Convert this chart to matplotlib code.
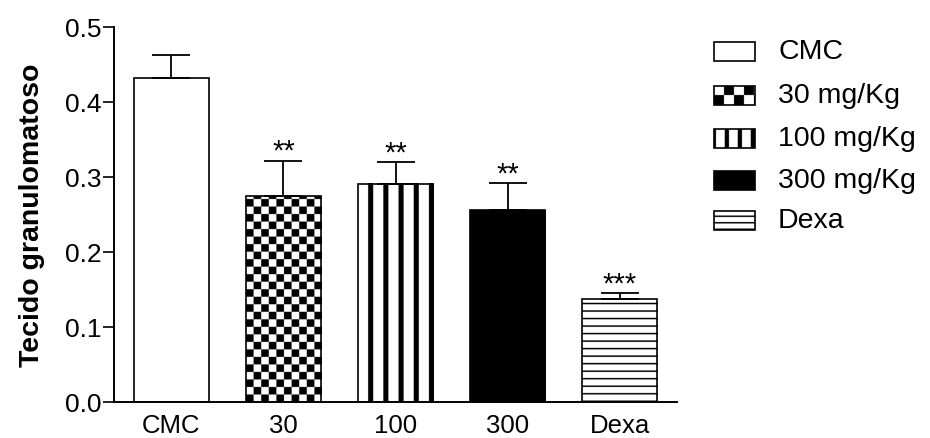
import numpy as np
import matplotlib
matplotlib.use("Agg")
import matplotlib.pyplot as plt
from matplotlib.patches import Rectangle

plt.rcParams['font.family'] = ['Liberation Sans', 'DejaVu Sans']

groups = ["CMC", "30", "100", "300", "Dexa"]
legend_labels = ["CMC", "30 mg/Kg", "100 mg/Kg", "300 mg/Kg", "Dexa"]
means = [0.432, 0.274, 0.291, 0.256, 0.137]
sem = [0.031, 0.048, 0.029, 0.036, 0.008]
stars = ["", "**", "**", "**", "***"]
fills = ["white", "checker", "vstripe", "black", "hstripe"]

W, H, DPI = 930, 439, 100
fig = plt.figure(figsize=(W / DPI, H / DPI), dpi=DPI)


def pattern(kind, w, h, cell):
    # build a black/white bitmap (row 0 = bottom) oversampled 4x
    s = 4
    xs = (np.arange(int(round(w * s))) + 0.5) / s
    ys = (np.arange(int(round(h * s))) + 0.5) / s
    X, Y = np.meshgrid(xs, ys)
    if kind == "checker":
        img = ((np.floor(X / cell) + np.floor(Y / cell)) % 2).astype(float)
    elif kind == "vstripe":
        img = (((w - X) % (cell * 2)) >= cell * 2 / 3).astype(float)
    elif kind == "hstripe":
        img = ((Y % cell) >= 1.6).astype(float)
    elif kind == "black":
        img = np.zeros_like(X)
    else:
        img = np.ones_like(X)
    return img


def fill_box(ax, x0, y0, w, h, kind, wpx, hpx, cell, lw):
    img = pattern(kind, wpx, hpx, cell)
    y_lo, y_hi = sorted([y0, y0 + h])
    ax.imshow(img, cmap="gray", vmin=0, vmax=1, origin="lower" if h > 0 else "upper",
              extent=(x0, x0 + w, y_lo, y_hi), aspect="auto",
              interpolation="antialiased", zorder=2)
    ax.add_patch(Rectangle((x0, y0), w, h, facecolor="none", edgecolor="black",
                           linewidth=lw, zorder=3))


# main panel
left, right, bottom, top = 114, 677, 403, 28
ax = fig.add_axes([left / W, (H - bottom) / H, (right - left) / W, (bottom - top) / H])
xlo, xhi = -0.513, 4.513
ax.set_xlim(xlo, xhi)
ax.set_ylim(0, 0.5)
px_x = (right - left) / (xhi - xlo)
px_y = (bottom - top) / 0.5

x = np.arange(len(groups))
bw = 0.67
for xi, m, kind in zip(x, means, fills):
    fill_box(ax, xi - bw / 2, 0, bw, m, kind, bw * px_x, m * px_y, 7.5, 1.2)

ax.errorbar(x, means, yerr=[np.zeros(len(sem)), sem], fmt="none", ecolor="black",
            elinewidth=1.3, capsize=13.5, capthick=1.3, zorder=4)
for xi, m, e, s in zip(x, means, sem, stars):
    if s:
        ax.annotate(s, (xi, m + e), xytext=(0, -3), textcoords="offset points",
                    ha="center", va="bottom", fontsize=21)

ax.set_xlim(xlo, xhi)
ax.set_ylim(0, 0.5)
ax.set_xticks(x)
ax.set_xticklabels(groups)
ax.set_yticks([0.0, 0.1, 0.2, 0.3, 0.4, 0.5])
ax.set_yticklabels(["0.0", "0.1", "0.2", "0.3", "0.4", "0.5"])
ax.tick_params(axis="x", length=0, pad=8, labelsize=18.5)
ax.tick_params(axis="y", length=8, width=1.2, pad=1, labelsize=19)
for side in ("top", "right"):
    ax.spines[side].set_visible(False)
for side in ("left", "bottom"):
    ax.spines[side].set_linewidth(1.4)
ax.set_ylabel("Tecido granulomatoso", fontsize=20.5, fontweight="bold", labelpad=14)

# legend drawn in pixel units
lx0, lx1, ly0, ly1 = 700, 930, 20, 245
lax = fig.add_axes([lx0 / W, (H - ly1) / H, (lx1 - lx0) / W, (ly1 - ly0) / H])
lax.set_xlim(lx0, lx1)
lax.set_ylim(ly1, ly0)
lax.axis("off")
rows = [52, 96, 139, 181, 221]
cells = {"checker": 10, "vstripe": 6.5, "hstripe": 6.5, "black": 1, "white": 1}
for yc, kind, lab in zip(rows, fills, legend_labels):
    bx, bwid, bh = 714, 41, 19
    fill_box(lax, bx, yc + bh / 2, bwid, -bh, kind, bwid, bh, cells[kind], 1.2)
    lax.text(778, yc, lab, ha="left", va="center", fontsize=20.5)
lax.set_xlim(lx0, lx1)
lax.set_ylim(ly1, ly0)

fig.savefig("out.png", dpi=DPI)
